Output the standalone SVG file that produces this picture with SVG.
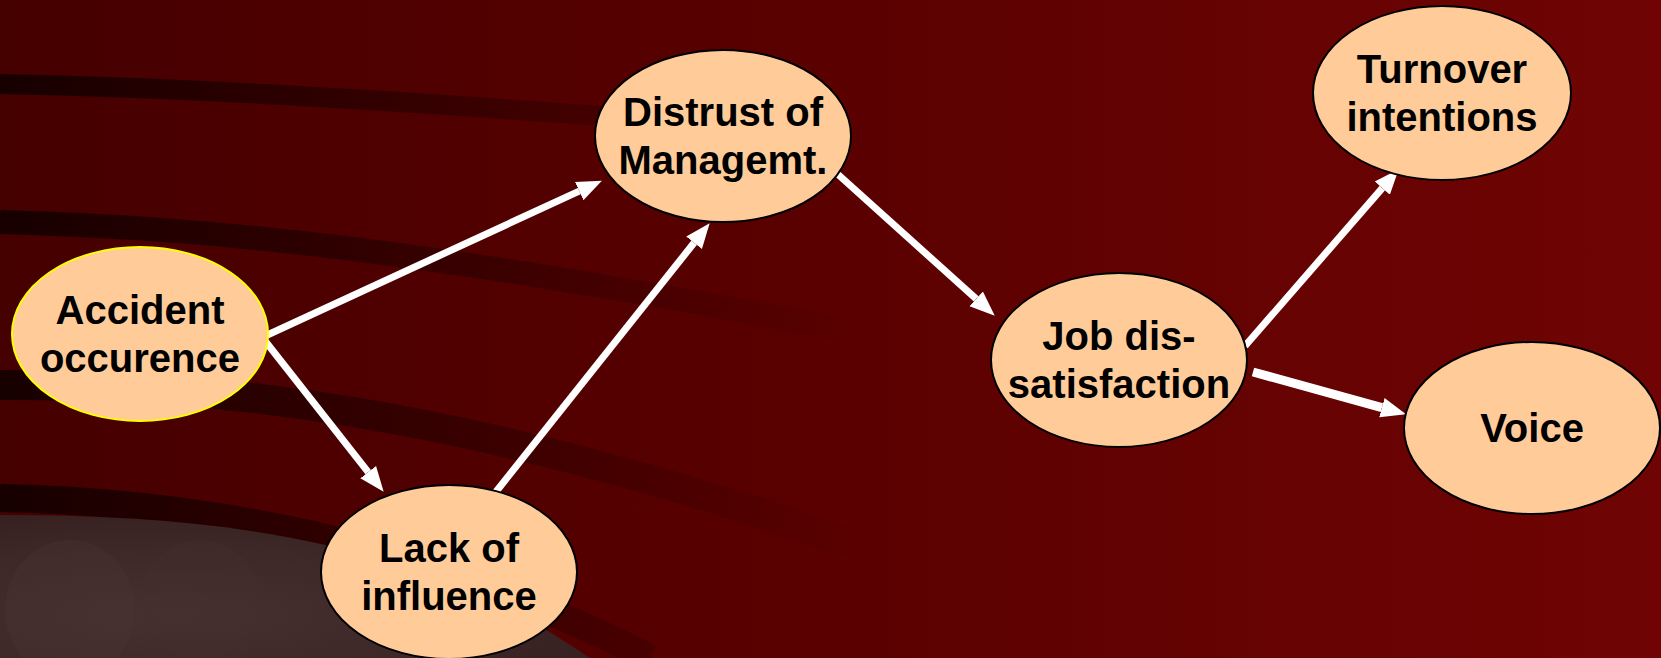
<svg xmlns="http://www.w3.org/2000/svg" width="1661" height="658" viewBox="0 0 1661 658">
  <defs>
    <linearGradient id="bg" x1="0" y1="0" x2="1" y2="0">
      <stop offset="0" stop-color="#450000"/>
      <stop offset="0.45" stop-color="#580000"/>
      <stop offset="1" stop-color="#700404"/>
    </linearGradient>
    <linearGradient id="bandFade" gradientUnits="userSpaceOnUse" x1="0" y1="0" x2="880" y2="0">
      <stop offset="0" stop-color="#120000" stop-opacity="0.9"/>
      <stop offset="0.55" stop-color="#220000" stop-opacity="0.5"/>
      <stop offset="1" stop-color="#300000" stop-opacity="0"/>
    </linearGradient>
    <radialGradient id="stone" cx="0.3" cy="0.7" r="0.8">
      <stop offset="0" stop-color="#463030"/>
      <stop offset="0.6" stop-color="#3e2827"/>
      <stop offset="1" stop-color="#361f1f"/>
    </radialGradient>
    <marker id="arrow" markerUnits="userSpaceOnUse" markerWidth="30" markerHeight="24" viewBox="0 -12 30 24" refX="0" refY="0" orient="auto">
      <path d="M0,-10 L25,0 L0,10 Z" fill="#ffffff"/>
    </marker>
    <style>
      .node ellipse { fill: #FFCC99; stroke: #000000; stroke-width: 2; }
      .node text { font-family: "Liberation Sans", Arial, sans-serif; font-weight: bold; font-size: 40px; fill: #000000; text-anchor: middle; }
      .conn { stroke: #ffffff; stroke-width: 7; fill: none; marker-end: url(#arrow); }
      .band { fill: none; stroke: url(#bandFade); }
    </style>
  </defs>

  <!-- background -->
  <rect x="0" y="0" width="1661" height="658" fill="url(#bg)"/>
  <path class="band" stroke-width="20" d="M0,84 C200,88 450,102 900,140"/>
  <path class="band" stroke-width="24" d="M0,222 C220,228 450,250 1000,360"/>
  <path class="band" stroke-width="30" d="M0,385 C200,385 450,400 900,560"/>
  <path class="band" stroke-width="28" d="M0,498 C200,502 420,540 650,658"/>
  <path d="M0,515 C220,515 420,540 590,658 L0,658 Z" fill="url(#stone)"/>
  <ellipse cx="70" cy="610" rx="65" ry="70" fill="#4a3434" opacity="0.35"/>
  <ellipse cx="200" cy="600" rx="60" ry="60" fill="#473030" opacity="0.3"/>

  <!-- connectors -->
  <g id="connectors">
    <line class="conn" x1="263" y1="337" x2="579.2" y2="191.1"/>
    <line class="conn" x1="262" y1="337" x2="368.2" y2="472.1"/>
    <line class="conn" x1="495" y1="493" x2="694.1" y2="242.8"/>
    <line class="conn" x1="832" y1="169" x2="976.2" y2="298.9"/>
    <line class="conn" x1="1245" y1="346" x2="1382.3" y2="188.1"/>
    <line class="conn" style="stroke-width:9" x1="1253" y1="372" x2="1381.9" y2="407.6"/>
  </g>

  <!-- nodes -->
  <g id="accident" class="node">
    <ellipse cx="140" cy="334" rx="128" ry="87" style="stroke:#FFFF00"/>
    <text x="140" y="324">Accident</text>
    <text x="140" y="372">occurence</text>
  </g>
  <g id="lack" class="node">
    <ellipse cx="449" cy="572" rx="128" ry="87"/>
    <text x="449" y="562">Lack of</text>
    <text x="449" y="610">influence</text>
  </g>
  <g id="distrust" class="node">
    <ellipse cx="723" cy="136" rx="128" ry="86"/>
    <text x="723" y="126">Distrust of</text>
    <text x="723" y="174">Managemt.</text>
  </g>
  <g id="job" class="node">
    <ellipse cx="1119" cy="360" rx="128" ry="87"/>
    <text x="1119" y="350">Job dis-</text>
    <text x="1119" y="398">satisfaction</text>
  </g>
  <g id="turnover" class="node">
    <ellipse cx="1442" cy="93" rx="129" ry="87"/>
    <text x="1442" y="83">Turnover</text>
    <text x="1442" y="131">intentions</text>
  </g>
  <g id="voice" class="node">
    <ellipse cx="1532" cy="428" rx="128" ry="86"/>
    <text x="1532" y="442">Voice</text>
  </g>
</svg>
